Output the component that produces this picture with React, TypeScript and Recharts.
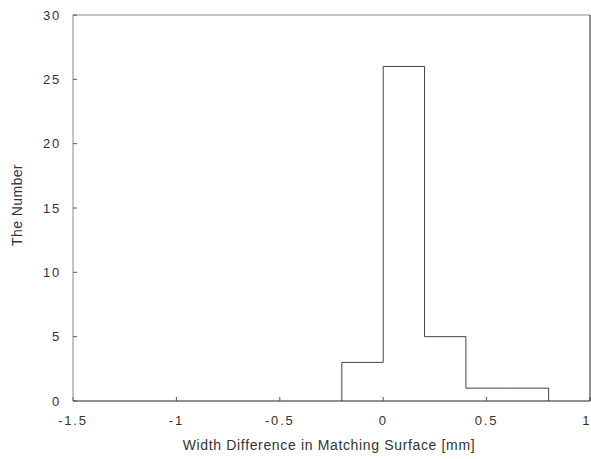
import React from 'react';
import { LineChart, Line, XAxis, YAxis } from 'recharts';

const binEdges = [-0.2, 0, 0.2, 0.4, 0.6, 0.8];
const counts = [3, 26, 5, 1, 1];
const xTicks = [-1.5, -1, -0.5, 0, 0.5, 1];
const yTicks = [0, 5, 10, 15, 20, 25, 30];

const stepData = [
  { x: binEdges[0], y: 0 },
  ...counts.map((c, i) => ({ x: binEdges[i], y: c })),
  { x: binEdges[binEdges.length - 1], y: 0 },
];

const FONT = '"Liberation Sans", Arial, sans-serif';

const YLabel = (props: any) => {
  const cx = 17;
  const cy = 205;
  return (
    <text
      x={cx}
      y={cy}
      transform={`rotate(-90, ${cx}, ${cy})`}
      textAnchor="middle"
      dominantBaseline="central"
      fontSize={14}
      letterSpacing={0.4}
      fontFamily={FONT}
      fill="#333"
    >
      The Number
    </text>
  );
};

const XLabel = (props: any) => {
  return (
    <text
      x={329}
      y={450}
      textAnchor="middle"
      fontSize={14}
      letterSpacing={0.65}
      fontFamily={FONT}
      fill="#333"
    >
      Width Difference in Matching Surface [mm]
    </text>
  );
};

const tickStyle = { fontSize: 13, fontFamily: FONT, fill: '#333', letterSpacing: 1.8 };

export default function App() {
  return (
    <div style={{ position: 'absolute', left: 0, top: 0, width: 591, height: 459, background: '#fff' }}>
      <LineChart width={591} height={459} data={stepData} margin={{ top: 0, right: 0, left: 0, bottom: 0 }}>
        <XAxis
          dataKey="x"
          type="number"
          domain={[-1.5, 1]}
          ticks={xTicks}
          allowDataOverflow
          height={58}
          tickSize={-4}
          tickMargin={19}
          axisLine={{ stroke: '#222' }}
          tickLine={{ stroke: '#555' }}
          tick={tickStyle}
          label={<XLabel />}
        />
        <XAxis
          xAxisId="top"
          orientation="top"
          type="number"
          domain={[-1.5, 1]}
          ticks={xTicks}
          allowDataOverflow
          height={15}
          tickSize={-4}
          axisLine={{ stroke: '#888' }}
          tickLine={{ stroke: '#555' }}
          tick={false}
        />
        <YAxis
          type="number"
          domain={[0, 30]}
          ticks={yTicks}
          allowDataOverflow
          width={73}
          tickSize={-4}
          tickMargin={16}
          axisLine={{ stroke: '#888' }}
          tickLine={{ stroke: '#555' }}
          tick={tickStyle}
          label={<YLabel />}
        />
        <YAxis
          yAxisId="right"
          orientation="right"
          type="number"
          domain={[0, 30]}
          ticks={yTicks}
          allowDataOverflow
          width={1}
          tickSize={-4}
          axisLine={{ stroke: '#222' }}
          tickLine={{ stroke: '#555' }}
          tick={false}
        />
        <Line
          dataKey="y"
          type="stepAfter"
          stroke="#444"
          strokeWidth={1}
          dot={false}
          activeDot={false}
          isAnimationActive={false}
        />
      </LineChart>
    </div>
  );
}
